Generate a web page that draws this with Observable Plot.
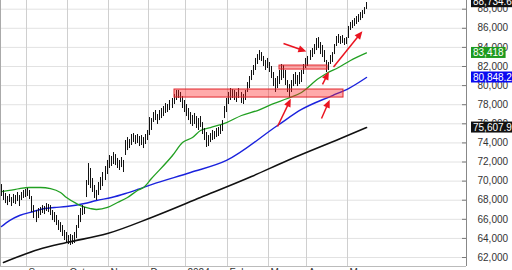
<!DOCTYPE html>
<html><head><meta charset="utf-8">
<script src="https://cdn.jsdelivr.net/npm/d3@7"></script>
<script src="https://cdn.jsdelivr.net/npm/@observablehq/plot@0.6"></script>
<style>html,body{margin:0;padding:0;background:#fff;overflow:hidden}</style>
</head><body><div id="chart"></div>
<script>
// Daily bar highs / lows (one per trading day, index 0 = mid-August 2023)
const hi = [69640,69020,68700,68390,68600,68280,68600,68490,68810,68490,
68810,69020,69120,69220,69020,68390,67440,66920,67130,67240,
67440,67340,67650,67550,67440,66920,66710,66400,65870,65660,
65350,64830,64620,64300,64410,64300,64620,65350,66400,67130,
67440,67240,70060,71840,71320,70270,69540,69020,69850,70380,
70900,71530,72160,72680,72580,72990,72780,72370,72160,72470,
72160,74250,74560,74350,74880,74980,74770,74880,74670,74770,
74560,74880,75300,76660,76550,77180,77390,76970,77390,77600,
77810,78120,78020,78440,78650,79070,79490,79490,79280,78860,
78440,78020,77600,77180,76870,77080,76760,76550,76760,76130,
75510,75090,74770,74980,75300,75190,75510,75610,75820,76340,
77810,78650,79280,79690,79590,79490,79280,79690,79280,79070,
79490,80320,80950,81580,82100,82840,83250,83670,83460,83050,
82630,82840,82420,82000,81370,80740,80950,81580,82210,82100,
81580,80530,80110,80530,81160,81370,81060,81370,81580,82210,
82840,83050,83670,83880,84300,84930,85030,84510,84200,83670,
82630,82420,83150,83460,84300,85140,85350,85140,85240,84930,
85030,86190,86610,86810,87020,87230,87440,87650,87860,88170,
88700];
const lo = [68390,67970,67650,67440,67760,67340,67650,67550,67860,67340,
67970,68180,68280,68390,68070,66710,66080,65660,66080,66400,
66610,66500,66820,66710,66400,65870,65660,65350,64830,64620,
64200,63780,63570,63360,63260,63360,63470,63990,65040,65660,
66400,66500,68280,69540,69220,68810,68180,67970,68490,69020,
69430,70060,70690,71320,71530,71740,71630,71320,71110,71420,
70900,72680,73200,73410,73730,74040,73830,73940,73620,73730,
73410,73830,74250,74770,75300,76140,76340,75930,76340,76550,
76760,77080,77180,77390,77600,78020,78440,78650,78230,77600,
77180,76760,76340,75930,75720,75930,75510,75300,75610,74880,
74250,73520,73620,74040,74250,74350,74560,74670,74880,75190,
76550,77180,78020,78440,78650,78440,78230,78650,78120,78020,
78440,79280,79690,80530,81060,81580,82210,82630,82520,82000,
81580,81790,81370,80740,79900,79280,79690,80110,80530,80740,
80010,79280,78750,79280,79900,80110,79900,80110,80320,81160,
81790,82000,82630,82940,83250,83670,83880,83250,82940,82420,
81370,81580,82210,82420,83250,84090,84410,84300,84410,84200,
84300,84930,85770,85980,86190,86400,86610,86810,87020,87440,
87970];

// Moving averages read at points (bar index, value)
const greenIdx = [0,4,9,14,19,24,29,32,37,39,44,47,52,57,62,67,70,74,84,89,94,98,103,111,118,126,134,141,148,156,160,166,172,180];
const greenVal = [68910,69020,69220,69330,69330,69220,68810,68280,67650,67440,67130,67030,67240,67760,68280,69020,69330,70270,72680,74040,74560,75300,75610,76130,76870,77390,78120,78650,79280,80740,81270,81890,82630,83418];
const blueIdx = [0,4,9,16,21,26,32,41,47,54,61,67,74,93,111,136,148,163,171,180];
const blueVal = [65250,65870,66400,66820,67130,67240,67340,67650,67970,68280,68700,69120,69640,70900,72160,75820,77500,78960,79690,80848];
const blackIdx = [1,18,32,52,74,98,123,141,167,180];
const blackVal = [61480,62840,63570,64510,66190,68280,70480,72160,74460,75608];

// Month boundaries (bar index) and labels
const monthPos = [12.5,32.5,52.5,72.5,90.5,111.5,131.5,150.5,170.5];
const monthLabels = ["Sep","Oct","Nov","Dec","2024","Feb","Mar","Apr","May"];
const yTicks = [62000,64000,66000,68000,70000,72000,74000,76000,78000,80000,82000,84000,86000,88000];

// Annotation zones (bar index range, price range)
const zoneX1 = [85.2, 137];
const zoneX2 = [168.5, 160.6];
const zoneY1 = [78750, 81680];
const zoneY2 = [79590, 82100];

// Annotation arrows (bar index, price) from -> to
const arrX1 = [138.9, 135.9, 157.6, 158.1, 163.5];
const arrY1 = [84410, 75720, 76550, 80130, 81950];
const arrX2 = [148.8, 141.9, 161.1, 160.6, 176.9];
const arrY2 = [83670, 78330, 78230, 81160, 85450];

// Last-value tags
const tagVals = [88734.6, 83418, 80848.2, 75607.9];
const tagLabels = ["88,734.6", "83,418", "80,848.2", "75,607.9"];
const tagColors = ["#111111", "#1e9a1e", "#0a0af0", "#111111"];

const xDomain = [-0.5, 229.1];
const yDomain = [61060, 88910];

const bars = hi.map((h, i) => ({i, hi: h, lo: lo[i]}));
const green = greenIdx.map((i, k) => ({i, v: greenVal[k]}));
const blue = blueIdx.map((i, k) => ({i, v: blueVal[k]}));
const black = blackIdx.map((i, k) => ({i, v: blackVal[k]}));
const zones = zoneX1.map((x, k) => ({x1: x, x2: zoneX2[k], y1: zoneY1[k], y2: zoneY2[k]}));
const arrows = arrX1.map((x, k) => ({x1: x, y1: arrY1[k], x2: arrX2[k], y2: arrY2[k]}));

const chart = Plot.plot({
  width: 512, height: 270,
  marginLeft: 0, marginRight: 46, marginTop: 0, marginBottom: 4,
  x: {type: "linear", domain: xDomain, axis: null, round: true},
  y: {domain: yDomain, axis: null},
  style: {fontFamily: "'Liberation Sans', Arial, sans-serif", fontSize: "10px", background: "white", overflow: "visible"},
  marks: [
    Plot.ruleY(yTicks, {stroke: "#e2e2e2"}),
    Plot.ruleX(monthPos, {stroke: "#cfcfcf"}),
    Plot.ruleX([xDomain[0]], {stroke: "#aaa"}),
    Plot.ruleY([yDomain[0]], {stroke: "#bbb"}),
    Plot.line(black, {x: "i", y: "v", stroke: "#111", strokeWidth: 1.6, curve: "monotone-x"}),
    Plot.line(blue, {x: "i", y: "v", stroke: "#1a22dd", strokeWidth: 1.4, curve: "monotone-x"}),
    Plot.line(green, {x: "i", y: "v", stroke: "#22a022", strokeWidth: 1.3, curve: "monotone-x"}),
    Plot.ruleX(bars, {x: "i", y1: "lo", y2: "hi", stroke: "#111", strokeWidth: 1}),
    Plot.rect(zones, {x1: "x1", x2: "x2", y1: "y1", y2: "y2", fill: "#ff2020", fillOpacity: 0.38, stroke: "#e0262c", strokeWidth: 1}),
    Plot.link(arrows, {x1: "x1", y1: "y1", x2: "x2", y2: "y2", stroke: "#ea1420", strokeWidth: 1.5, markerEnd: "arrow"}),
    Plot.ruleX([xDomain[1]], {stroke: "#888"}),
    Plot.ruleY(yTicks, {x1: xDomain[1] - 2, x2: xDomain[1], stroke: "#777"}),
    Plot.axisY(yTicks, {anchor: "right", tickSize: 0, tickPadding: 11, tickFormat: d3.format(","), fill: "#333", fontSize: 10}),
    Plot.axisX(monthPos, {anchor: "bottom", tickSize: 0, tickPadding: 2, tickFormat: (d) => monthLabels[monthPos.indexOf(d)], textAnchor: "start", dx: 2, fill: "#333", fontSize: 10})
  ]
});
document.getElementById("chart").appendChild(chart);

const svg = d3.select(chart);
// filled arrow heads
svg.selectAll("marker").each(function() {
  const m = d3.select(this);
  const c = m.attr("stroke") || "#ea1420";
  m.attr("fill", c).attr("stroke", "none").attr("overflow", "visible");
  m.select("path").attr("d", "M-5,-3.5L3,0L-5,3.5Z");
});
// value tags on the right axis
const ys = chart.scale("y"), xs = chart.scale("x");
const tx = xs.apply(xDomain[1]) + 5;
tagVals.forEach((v, k) => {
  const y = ys.apply(v);
  const g = svg.append("g");
  const r = g.append("rect").attr("x", tx).attr("y", y - 5.5).attr("height", 11).attr("fill", tagColors[k]);
  const t = g.append("text").attr("x", tx + 2).attr("y", y).attr("dy", "0.36em")
    .attr("text-anchor", "start")
    .attr("fill", "white").attr("font-size", 10).attr("font-family", "'Liberation Sans', Arial, sans-serif").text(tagLabels[k]);
  r.attr("width", t.node().getComputedTextLength() + 4);
});
</script></body></html>
